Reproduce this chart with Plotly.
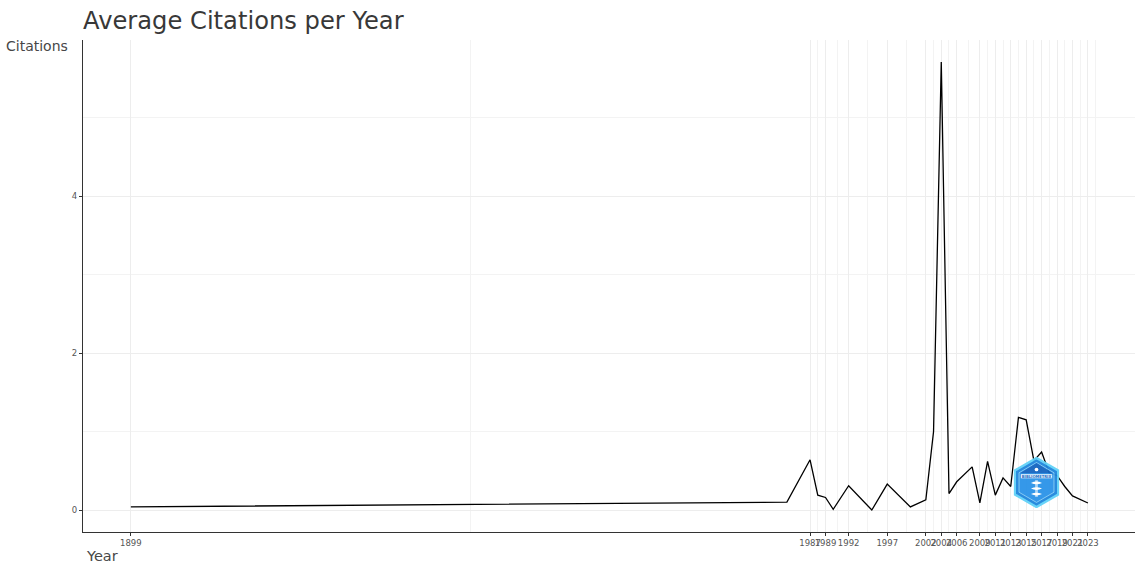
import base64
import plotly.graph_objects as go

# ---- data ----
years = [1899, 1984, 1987, 1988, 1989, 1990, 1992, 1995, 1997, 2000, 2002,
         2003, 2004, 2005, 2006, 2008, 2009, 2010, 2011, 2012, 2013, 2014,
         2015, 2016, 2017, 2018, 2019, 2020, 2021, 2022, 2023]
citations = [0.04, 0.10, 0.64, 0.19, 0.16, 0.01, 0.31, 0.00, 0.33, 0.04, 0.13,
             1.00, 5.71, 0.21, 0.36, 0.55, 0.09, 0.62, 0.19, 0.41, 0.30, 1.18,
             1.15, 0.63, 0.74, 0.47, 0.44, 0.30, 0.18, 0.14, 0.09]

# x breaks: every other year present in the table
x_breaks = years[::2]
x_minor = [(a + b) / 2 for a, b in zip(x_breaks[:-1], x_breaks[1:])]
x_minor.append(x_breaks[-1] + (x_breaks[-1] - x_breaks[-2]) / 2)
y_breaks = [0, 2, 4]
y_minor = [1, 3, 5]

title_text = "Average Citations per Year"
x_title = "Year"
y_title = "Citations"

FONT = "DejaVu Sans, Liberation Sans, Arial, sans-serif"
GRID = "#EDEDED"
TEXT = "#555555"

fig = go.Figure()
fig.add_trace(go.Scatter(
    x=years, y=citations, mode="lines",
    line=dict(color="#000000", width=1.3),
    hoverinfo="x+y", showlegend=False,
))

# small hexagonal logo (decoration)
svg = """<svg xmlns='http://www.w3.org/2000/svg' width='100' height='110' viewBox='0 0 100 110'>
<polygon points='50,2 97,29 97,81 50,108 3,81 3,29' fill='#1F86DD' stroke='#62D2F8' stroke-width='5'/>
<polygon points='50,12 88,34 88,76 50,98 12,76 12,34' fill='#2B93E8' stroke='#A8E0FA' stroke-width='1.5'/>
<polygon points='50,13 86,35 14,35' fill='#1565C0'/>
<rect x='16' y='37' width='68' height='9' fill='#E3F2FD'/>
<text x='50' y='44.5' font-size='8' font-family='DejaVu Sans' text-anchor='middle' fill='#1565C0' font-weight='bold'>BIBLIOMETRIX</text>
<circle cx='50' cy='27' r='4' fill='#FFFFFF'/>
<path d='M38,56 Q50,50 62,56 Q50,62 38,56 Z M38,68 Q50,62 62,68 Q50,74 38,68 Z M38,80 Q50,74 62,80 Q50,86 38,80 Z' fill='#FFFFFF'/>
<rect x='47' y='50' width='6' height='36' fill='#FFFFFF' opacity='0.6'/>
</svg>"""
logo_src = "data:image/svg+xml;base64," + base64.b64encode(svg.encode()).decode()

fig.update_layout(
    width=1135, height=570,
    margin=dict(l=83, r=0, t=40, b=38),
    paper_bgcolor="white", plot_bgcolor="white",
    font=dict(family=FONT, color=TEXT),
    title=dict(text=title_text, x=0, xref="paper", xanchor="left",
               y=1 - 12 / 570, yref="container", yanchor="top",
               font=dict(size=24.2, color="#383838", family=FONT)),
    xaxis=dict(
        range=[1892.8, 2029.1], tickmode="array", tickvals=x_breaks,
        ticktext=[str(v) for v in x_breaks], tickangle=0,
        tickfont=dict(size=8.5, color=TEXT, family=FONT),
        showgrid=True, gridcolor=GRID, gridwidth=1,
        minor=dict(tickmode="array", tickvals=x_minor, showgrid=True,
                   gridcolor="#F3F3F3", gridwidth=0.8, ticks=""),
        showline=True, linecolor="#333333", linewidth=1.3,
        ticks="outside", ticklen=3, tickcolor="#333333", tickwidth=1,
        zeroline=False, fixedrange=True,
    ),
    yaxis=dict(
        range=[-0.28, 5.99], tickmode="array", tickvals=y_breaks,
        ticktext=[str(v) for v in y_breaks],
        tickfont=dict(size=8.5, color=TEXT, family=FONT),
        showgrid=True, gridcolor=GRID, gridwidth=1,
        minor=dict(tickmode="array", tickvals=y_minor, showgrid=True,
                   gridcolor="#F3F3F3", gridwidth=0.8, ticks=""),
        showline=True, linecolor="#333333", linewidth=1.3,
        ticks="outside", ticklen=3, tickcolor="#333333", tickwidth=1,
        zeroline=False, fixedrange=True,
    ),
    annotations=[
        dict(text=y_title, xref="paper", yref="paper", x=0, y=(532 - 46.5) / 492,
             xanchor="right", yanchor="middle", xshift=-13, showarrow=False,
             font=dict(size=14, color="#474747", family=FONT)),
        dict(text=x_title, xref="paper", yref="paper", x=0, y=(532 - 556) / 492,
             xanchor="left", yanchor="middle", xshift=1, showarrow=False,
             font=dict(size=14.5, color="#474747", family=FONT)),
    ],
    images=[dict(source=logo_src, xref="paper", yref="paper",
                 x=(1036.5 - 83) / 1052, y=(532 - 482.5) / 492,
                 sizex=46 / 1052, sizey=51 / 492, xanchor="center", yanchor="middle",
                 sizing="stretch", opacity=0.95, layer="above")],
)

fig.write_html("out.html",
               config={"displayModeBar": False},
               post_script="document.body.style.margin='0';document.body.style.overflow='hidden';")
